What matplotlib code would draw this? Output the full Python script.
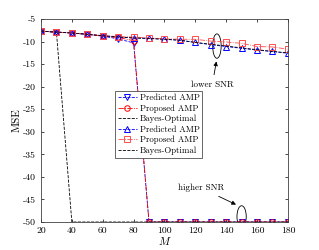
import matplotlib
matplotlib.use('Agg')
import matplotlib.pyplot as plt
from matplotlib.patches import Ellipse
import numpy as np

plt.rcParams['font.family'] = 'serif'
plt.rcParams['font.serif'] = ['cmr10']
plt.rcParams['mathtext.fontset'] = 'cm'
plt.rcParams['axes.unicode_minus'] = False
plt.rcParams['axes.formatter.use_mathtext'] = False

M = [20, 30, 40, 50, 60, 70, 80, 90, 100, 110, 120, 130, 140, 150, 160, 170, 180]

# higher SNR
pred_hi = [-7.7, -7.9, -8.1, -8.4, -8.8, -9.4, -10.3, -50, -50, -50, -50, -50, -50, -50, -50, -50, -50]
prop_hi = [-7.7, -7.9, -8.1, -8.4, -8.8, -9.1, -9.8, -50, -50, -50, -50, -50, -50, -50, -50, -50, -50]
bayes_hi = [-7.7, -7.9, -50, -50, -50, -50, -50, -50, -50, -50, -50, -50, -50, -50, -50, -50, -50]

# lower SNR
pred_lo = [-7.7, -7.9, -8.1, -8.4, -8.7, -9.0, -9.2, -9.3, -9.5, -9.7, -10.2, -10.7, -11.1, -11.5, -11.9, -12.2, -12.6]
prop_lo = [-7.7, -7.9, -8.1, -8.4, -8.7, -8.9, -9.0, -9.2, -9.4, -9.5, -9.5, -9.9, -10.1, -10.4, -11.1, -11.2, -11.7]
bayes_lo = [-7.7, -7.9, -8.1, -8.4, -8.7, -9.0, -9.2, -9.3, -9.5, -9.7, -10.2, -10.6, -11.0, -11.4, -11.8, -12.2, -12.5]

fig = plt.figure(figsize=(3.19, 2.5), dpi=100)
ax = fig.add_axes([0.1285, 0.112, 0.774, 0.812])

lw = 0.6
ms = 4
ax.plot(M, pred_hi, '--', color='b', lw=lw, marker='v', ms=ms, mfc='none', mew=0.7, label='Predicted AMP')
ax.plot(M, prop_hi, '-.', color='r', lw=lw, marker='o', ms=ms, mfc='none', mew=0.7, label='Proposed AMP')
ax.plot(M, bayes_hi, '--', color='k', lw=lw, label='Bayes-Optimal')
ax.plot(M, pred_lo, '--', color='b', lw=lw, marker='^', ms=ms, mfc='none', mew=0.7, label='Predicted AMP')
ax.plot(M, prop_lo, '-.', color=(1, 0.3, 0.3), lw=lw, marker='s', ms=ms, mfc='none', mew=0.7, label='Proposed AMP')
ax.plot(M, bayes_lo, '--', color='k', lw=lw, label='Bayes-Optimal')

ax.set_xlim(20, 180)
ax.set_ylim(-50, -5)
ax.set_xticks(np.arange(20, 181, 20))
ax.set_yticks(np.arange(-50, -4, 5))
ax.tick_params(direction='in', top=True, right=True, labelsize=7, length=2.5, width=0.5)
for s in ax.spines.values():
    s.set_linewidth(0.6)
    s.set_color('0.25')

ax.set_xlabel('$M$', fontsize=8, labelpad=0)
ax.set_ylabel('MSE', fontsize=8, labelpad=1)

leg = ax.legend(loc='upper left', bbox_to_anchor=(0.3, 0.645), fontsize=6.3, fancybox=False,
                edgecolor='0.3', framealpha=1, handlelength=2.2, borderpad=0.3,
                labelspacing=0.25, handletextpad=0.3, borderaxespad=0)
leg.get_frame().set_linewidth(0.6)

# annotations
ax.add_patch(Ellipse((134, -11), 5.5, 5.4, fill=False, lw=0.6, color='k'))
ax.annotate('lower SNR', xy=(134, -13.8), xytext=(131, -19.5), fontsize=6.5, ha='center', va='center',
            arrowprops=dict(arrowstyle='-|>', color='k', lw=0.6, mutation_scale=6))
ax.add_patch(Ellipse((150, -48.8), 6, 4.8, fill=False, lw=0.6, color='k'))
ax.annotate('higher SNR', xy=(148, -46.4), xytext=(124, -42.5), fontsize=6.5, ha='center', va='center',
            arrowprops=dict(arrowstyle='-|>', color='k', lw=0.6, mutation_scale=6))

fig.savefig('out.png', dpi=100)
